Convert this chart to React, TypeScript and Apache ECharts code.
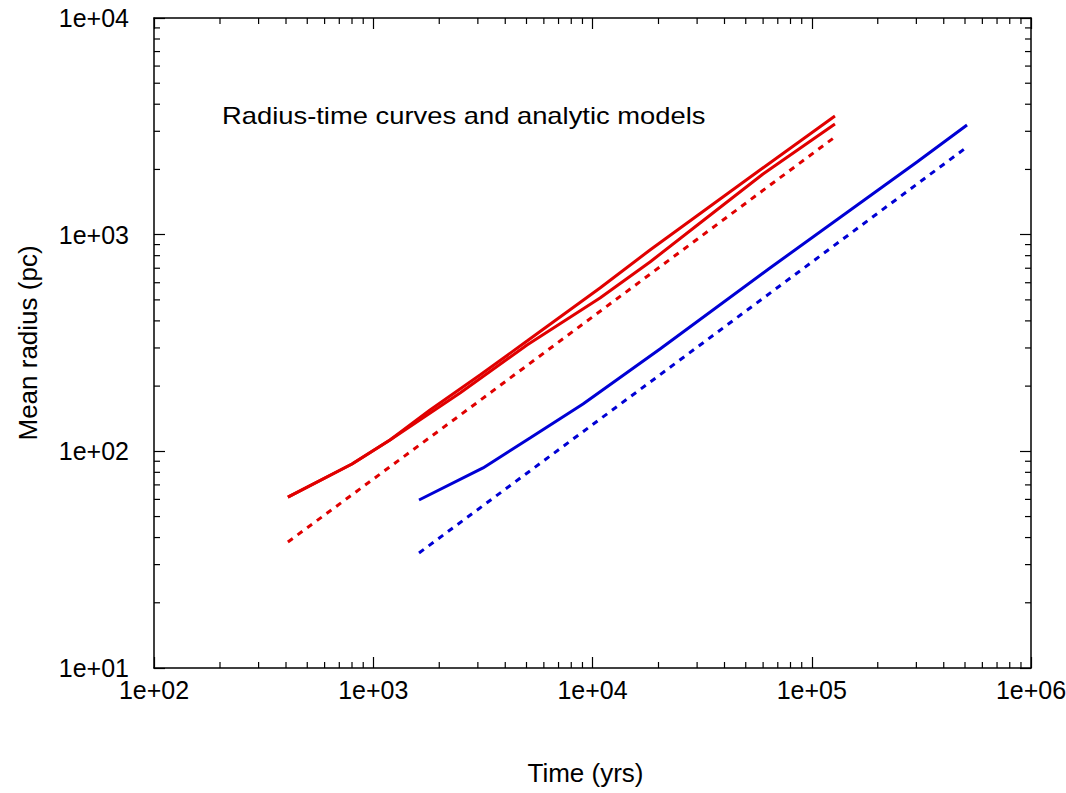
import React, { useEffect, useRef } from "react";
import * as echarts from "echarts";

// Red simulation curves (time in yrs, mean radius in pc)
const redATime = [408, 800, 1192, 1815, 3069, 5027, 10820, 18290, 58070, 127600];
const redARadius = [61.5, 87.4, 112.8, 155.1, 225.1, 323, 567.5, 849.6, 1988, 3529];

const redBTime = [408, 800, 1192, 2487, 5027, 10820, 18290, 30930, 59940, 127600];
const redBRadius = [61.5, 87.4, 112.8, 185.9, 309.7, 510.2, 747.9, 1132, 1905, 3242];

// Red analytic model
const redModelTime = [408, 2677, 127600];
const redModelRadius = [38.15, 155.1, 2824];

// Blue simulation curve
const blueTime = [1617, 3168, 5187, 9051, 20320, 64490, 302000, 510700];
const blueRadius = [59.6, 83.8, 115.2, 165.4, 296.7, 701.8, 2165, 3208];

// Blue analytic model
const blueModelTime = [1617, 19690, 510700];
const blueModelRadius = [33.95, 220.4, 2539];

// Axis ranges
const X_MIN = 1e2;
const X_MAX = 1e6;
const Y_MIN = 1e1;
const Y_MAX = 1e4;

const minorMultipliers = [2, 3, 4, 5, 6, 7, 8, 9];
const xDecades = [1e2, 1e3, 1e4, 1e5];
const yDecades = [1e1, 1e2, 1e3];

const RED = "#e00000";
const BLUE = "#0000d4";
const FONT = "Liberation Sans";

const zip = (a: number[], b: number[]) => a.map((v, i) => [v, b[i]]);
const fmt = (v: number) => {
  const e = Math.round(Math.log10(v));
  return "1e+" + String(e).padStart(2, "0");
};

export default function App() {
  const ref = useRef<HTMLDivElement>(null);
  useEffect(() => {
    if (!ref.current) return;
    const chart = echarts.init(ref.current, undefined, { renderer: "svg" });

    const minorX: number[] = [];
    xDecades.forEach((d) => minorMultipliers.forEach((m) => minorX.push(d * m)));
    const minorY: number[] = [];
    yDecades.forEach((d) => minorMultipliers.forEach((m) => minorY.push(d * m)));

    const MINOR_LEN = 6;
    const tickStyle = { stroke: "#000", lineWidth: 1.2 };

    const axisCommon = {
      axisLine: { show: true, lineStyle: { color: "#000", width: 1.5 } },
      axisTick: { show: true, inside: true, length: 11, lineStyle: { color: "#000", width: 1.2 } },
      splitLine: { show: false },
      minorTick: { show: false },
    };

    const solid = (color: string) => ({
      type: "line" as const,
      showSymbol: false,
      symbol: "none",
      lineStyle: { color, width: 3 },
      itemStyle: { color },
      xAxisIndex: 0,
      yAxisIndex: 0,
    });
    const dotted = (color: string) => ({
      type: "line" as const,
      showSymbol: false,
      symbol: "none",
      lineStyle: { color, width: 3, type: [6, 6] as number[] },
      itemStyle: { color },
      xAxisIndex: 0,
      yAxisIndex: 0,
    });

    chart.setOption({
      animation: false,
      backgroundColor: "#fff",
      grid: {
        left: 154,
        right: 35,
        top: 18,
        bottom: 125,
        containLabel: false,
        outerBoundsMode: "none",
      },
      xAxis: [
        {
          type: "log",
          logBase: 10,
          min: X_MIN,
          max: X_MAX,
          position: "bottom",
          name: "Time (yrs)",
          nameLocation: "middle",
          nameGap: 92,
          nameTextStyle: {
            fontFamily: FONT,
            fontSize: 26,
            color: "#000",
            padding: [0, 14, 0, 0],
          },
          axisLabel: {
            formatter: fmt,
            margin: 9,
            fontFamily: FONT,
            fontSize: 25,
            color: "#000",
          },
          ...axisCommon,
        },
        {
          type: "log",
          logBase: 10,
          min: X_MIN,
          max: X_MAX,
          position: "top",
          axisLabel: { show: false },
          ...axisCommon,
        },
      ],
      yAxis: [
        {
          type: "log",
          logBase: 10,
          min: Y_MIN,
          max: Y_MAX,
          position: "left",
          name: "Mean radius (pc)",
          nameLocation: "middle",
          nameGap: 113,
          nameTextStyle: { fontFamily: FONT, fontSize: 26, color: "#000" },
          axisLabel: {
            formatter: fmt,
            margin: 25,
            fontFamily: FONT,
            fontSize: 25,
            color: "#000",
          },
          ...axisCommon,
        },
        {
          type: "log",
          logBase: 10,
          min: Y_MIN,
          max: Y_MAX,
          position: "right",
          axisLabel: { show: false },
          ...axisCommon,
        },
      ],
      graphic: [
        {
          type: "text",
          x: 222,
          y: 116,
          scaleX: 1.19,
          style: {
            text: "Radius-time curves and analytic models",
            fontFamily: FONT,
            fontSize: 23,
            fill: "#000",
            verticalAlign: "middle",
            align: "left",
          },
        },
      ],
      series: [
        { ...solid(RED), data: zip(redATime, redARadius) },
        { ...solid(RED), data: zip(redBTime, redBRadius) },
        { ...dotted(RED), data: zip(redModelTime, redModelRadius) },
        { ...solid(BLUE), data: zip(blueTime, blueRadius) },
        { ...dotted(BLUE), data: zip(blueModelTime, blueModelRadius) },
        {
          type: "custom",
          xAxisIndex: 0,
          yAxisIndex: 0,
          silent: true,
          clip: false,
          data: minorX.map((v) => [v, Y_MIN]),
          encode: { x: 0, y: 1 },
          renderItem: (params: any, api: any) => {
            const v = api.value(0);
            const b = api.coord([v, Y_MIN]);
            const t = api.coord([v, Y_MAX]);
            return {
              type: "group",
              children: [
                { type: "line", shape: { x1: b[0], y1: b[1], x2: b[0], y2: b[1] - MINOR_LEN }, style: tickStyle },
                { type: "line", shape: { x1: t[0], y1: t[1], x2: t[0], y2: t[1] + MINOR_LEN }, style: tickStyle },
              ],
            };
          },
        },
        {
          type: "custom",
          xAxisIndex: 0,
          yAxisIndex: 0,
          silent: true,
          clip: false,
          data: minorY.map((v) => [X_MIN, v]),
          encode: { x: 0, y: 1 },
          renderItem: (params: any, api: any) => {
            const v = api.value(1);
            const l = api.coord([X_MIN, v]);
            const r = api.coord([X_MAX, v]);
            return {
              type: "group",
              children: [
                { type: "line", shape: { x1: l[0], y1: l[1], x2: l[0] + MINOR_LEN, y2: l[1] }, style: tickStyle },
                { type: "line", shape: { x1: r[0], y1: r[1], x2: r[0] - MINOR_LEN, y2: r[1] }, style: tickStyle },
              ],
            };
          },
        },
      ],
    });

    return () => chart.dispose();
  }, []);

  return (
    <div
      ref={ref}
      style={{ position: "absolute", left: 0, top: 0, width: 1066, height: 793 }}
    />
  );
}
